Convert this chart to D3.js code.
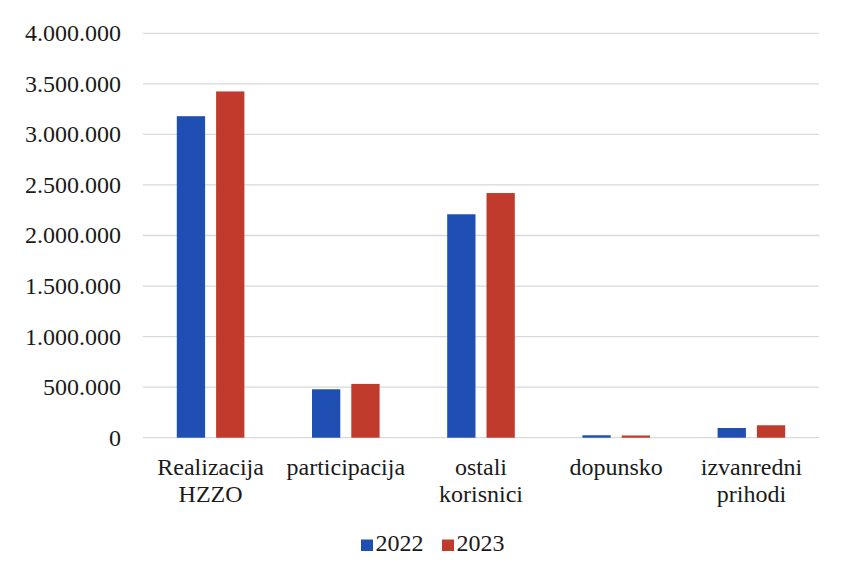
<!DOCTYPE html>
<html>
<head>
<meta charset="utf-8">
<script src="https://cdn.jsdelivr.net/npm/d3@7"></script>
<style>
  html, body { margin: 0; padding: 0; background: #ffffff; }
  svg { display: block; }
</style>
</head>
<body>
<svg id="chart" width="843" height="575"></svg>
<script>
// ---- data ----
const categories = [["Realizacija", "HZZO"], ["participacija"], ["ostali", "korisnici"], ["dopunsko"], ["izvanredni", "prihodi"]];
const seriesNames = ["2022", "2023"];
const values2022 = [3180000, 479000, 2210000, 24000, 96000];
const values2023 = [3425000, 532000, 2420000, 22000, 123000];
const yTicks = [0, 500000, 1000000, 1500000, 2000000, 2500000, 3000000, 3500000, 4000000];
const colors = ["#1f4fb3", "#c13b2d"];

const series = [values2022, values2023];
const fontFamily = '"Liberation Serif"';
const svg = d3.select("#chart");
const fontSize = 24;

const plot = { left: 143, right: 819, top: 33.3, bottom: 437.7 };

const catKeys = categories.map(c => c.join(" "));
const x0 = d3.scaleBand().domain(catKeys).range([plot.left, plot.right])
  .paddingInner(0.5).paddingOuter(0.25);
const x1 = d3.scaleBand().domain(seriesNames).range([0, x0.bandwidth()]).paddingInner(0.28);
const y = d3.scaleLinear().domain([0, 4000000]).range([plot.bottom, plot.top]);

const fmt = v => d3.format(",")(v).replace(/,/g, ".");

// gridlines
svg.append("g").selectAll("line").data(yTicks).join("line")
  .attr("x1", plot.left).attr("x2", plot.right)
  .attr("y1", d => y(d)).attr("y2", d => y(d))
  .attr("stroke", "#d9d9d9").attr("stroke-width", 1.3);

// y labels
svg.append("g").selectAll("text").data(yTicks).join("text")
  .attr("x", 121).attr("y", d => y(d)).attr("dy", "0.33em")
  .attr("text-anchor", "end")
  .style("font-family", fontFamily).style("font-size", fontSize + "px")
  .attr("fill", "#1a1a1a")
  .text(d => fmt(d));

// bars
const groups = svg.append("g").selectAll("g").data(catKeys).join("g")
  .attr("transform", d => `translate(${x0(d)},0)`);
groups.selectAll("rect").data((d, i) => seriesNames.map((s, j) => ({ s, j, v: series[j][i] })))
  .join("rect")
  .attr("x", d => x1(d.s))
  .attr("width", x1.bandwidth())
  .attr("y", d => y(d.v))
  .attr("height", d => y(0) - y(d.v))
  .attr("fill", d => colors[d.j]);

// category labels
const catG = svg.append("g").selectAll("text").data(categories).join("text")
  .attr("text-anchor", "middle")
  .style("font-family", fontFamily).style("font-size", fontSize + "px")
  .attr("fill", "#1a1a1a")
  .attr("transform", (d, i) => `translate(${x0(catKeys[i]) + x0.bandwidth() / 2},475)`);
catG.selectAll("tspan").data(d => d).join("tspan")
  .attr("x", 0).attr("y", (d, i) => i * 27)
  .text(d => d);

// legend
const legendX = [361, 442];
const lg = svg.append("g").selectAll("g").data(seriesNames).join("g")
  .attr("transform", (d, i) => `translate(${legendX[i]},551)`);
lg.append("rect").attr("x", 0).attr("y", -11.5).attr("width", 12).attr("height", 11.5)
  .attr("fill", (d, i) => colors[i]);
lg.append("text").attr("x", 14.5).attr("y", 0)
  .style("font-family", fontFamily).style("font-size", fontSize + "px")
  .attr("fill", "#1a1a1a").text(d => d);
</script>
</body>
</html>
